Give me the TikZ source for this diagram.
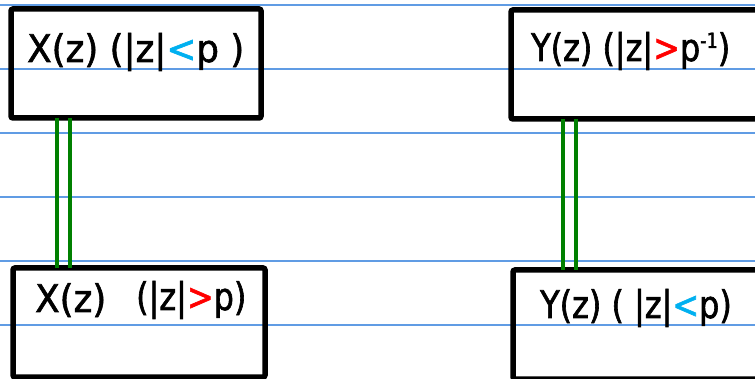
\documentclass[tikz,border=0pt]{standalone}
\usepackage{fontspec}
\setmainfont{DejaVu Sans}
\newfontfamily\handfont[FakeStretch=0.94,FakeBold=1.6]{DejaVu Sans}
\newfontfamily\handnarrow[FakeStretch=0.84,FakeBold=1.6]{DejaVu Sans}
\usepackage{tikz}
\usetikzlibrary{positioning}
\definecolor{ruleblue}{RGB}{96,156,228}
\definecolor{rocblue}{RGB}{0,176,240}
\definecolor{rocred}{RGB}{255,0,0}
\definecolor{linkgreen}{RGB}{0,128,0}
\tikzset{
  rocbox/.style={draw=black, line width=5.5pt, rounded corners=2pt, outer sep=0pt,
                 inner sep=0pt, minimum width=250pt, minimum height=109pt, anchor=north west},
  hand/.style={font=\handfont\fontsize{38}{38}\selectfont, anchor=base west, inner sep=0pt},
  handn/.style={hand, font=\handnarrow\fontsize{38}{38}\selectfont},
  link/.style={draw=linkgreen, line width=3.2pt}
}
\newcommand{\lt}{{\color{rocblue}<}}
\newcommand{\gt}{{\color{rocred}>}}
\newcommand{\inv}{{\fontsize{21}{21}\selectfont\raisebox{13pt}{-1}}}

\begin{document}
\begin{tikzpicture}[x=1pt, y=-1pt]
  \useasboundingbox (0,0) rectangle (755,379);
  \clip (0,0) rectangle (755,379);
  \fill[white] (0,0) rectangle (755,379);
  % ruled paper
  \foreach \ly in {5,69,...,325}
    \draw[ruleblue, line width=1.3pt] (0,\ly) -- (755,\ly);

  % the four boxes
  \node[rocbox] (xin) at (11,9) {};
  \node[rocbox, minimum width=300pt] (yout) at (511,10) {};
  \node[rocbox, minimum width=252pt] (xout) at (13,268) {};
  \node[rocbox, minimum width=300pt] (yin) at (513,270) {};

  % labels
  \node[hand] (xinlbl) at (27,62) {X(z) (|z|\lt p )};
  \node[handn] (youtlbl) at (531,61) {Y(z) (|z|\gt p\inv)};
  \node[hand] (xoutz) at (35,312) {X(z)};
  \node[handn] (xoutlbl) at (136,310) {(|z|\gt p)};
  \node[handn] (yinlbl) at (540,318) {Y(z) ( |z|\lt p)};

  % double links
  \foreach \dx in {46,59} {
    \coordinate (lk) at ([xshift=\dx pt]xin.south west);
    \draw[link] (lk) -- (lk |- xout.north);
  }
  \foreach \dx in {52,65} {
    \coordinate (rk) at ([xshift=\dx pt]yout.south west);
    \draw[link] (rk) -- (rk |- yin.north);
  }
\end{tikzpicture}
\end{document}
